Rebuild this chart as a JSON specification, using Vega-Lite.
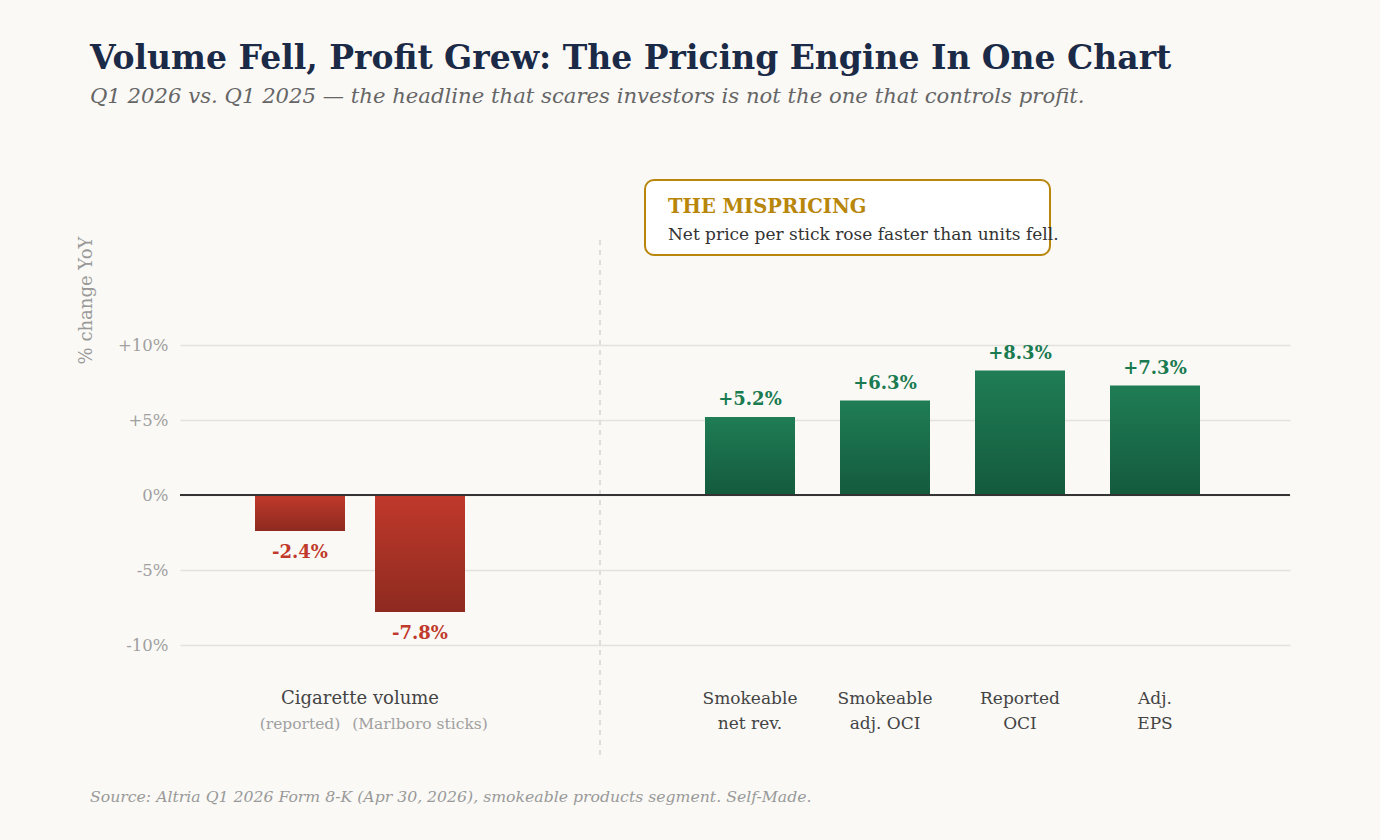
{
  "$schema": "https://vega.github.io/schema/vega-lite/v6.json",
  "width": 1110,
  "height": 600,
  "autosize": {"type": "none"},
  "padding": {"left": 180, "top": 150, "right": 90, "bottom": 90},
  "background": "#faf9f6",
  "title": {
    "text": "Volume Fell, Profit Grew: The Pricing Engine In One Chart",
    "subtitle": "Q1 2026 vs. Q1 2025 — the headline that scares investors is not the one that controls profit.",
    "anchor": "start",
    "frame": "group",
    "dx": -90,
    "offset": 42.5,
    "font": "DejaVu Serif",
    "fontSize": 33,
    "fontWeight": "bold",
    "color": "#1b2a47",
    "subtitleFont": "DejaVu Serif",
    "subtitleFontSize": 21.2,
    "subtitleFontStyle": "italic",
    "subtitleColor": "#666666",
    "subtitlePadding": 10
  },
  "config": {
    "view": {"stroke": null},
    "font": "DejaVu Serif",
    "scale": {"continuousPadding": 0}
  },
  "datasets": {
    "bars": [
      {"metric": "Cigarette volume (reported)", "slot": 8, "change": -2.4, "label": "-2.4%", "group": "vol", "line1": "", "line2": "(reported)"},
      {"metric": "Cigarette volume (Marlboro sticks)", "slot": 16, "change": -7.8, "label": "-7.8%", "group": "vol", "line1": "", "line2": "(Marlboro sticks)"},
      {"metric": "Smokeable net rev.", "slot": 38, "change": 5.2, "label": "+5.2%", "group": "profit", "line1": "Smokeable", "line2": "net rev."},
      {"metric": "Smokeable adj. OCI", "slot": 47, "change": 6.3, "label": "+6.3%", "group": "profit", "line1": "Smokeable", "line2": "adj. OCI"},
      {"metric": "Reported OCI", "slot": 56, "change": 8.3, "label": "+8.3%", "group": "profit", "line1": "Reported", "line2": "OCI"},
      {"metric": "Adj. EPS", "slot": 65, "change": 7.3, "label": "+7.3%", "group": "profit", "line1": "Adj.", "line2": "EPS"}
    ],
    "grouplabel": [
      {"slot": 12, "text": "Cigarette volume"}
    ]
  },
  "resolve": {"scale": {"x": "shared", "y": "shared"}},
  "layer": [
    {
      "data": {"name": "bars"},
      "mark": {"type": "rule", "color": "#dddddd", "strokeWidth": 1.5, "strokeDash": [5, 5]},
      "encoding": {
        "x": {"datum": 28, "type": "quantitative", "scale": {"domain": [0, 74], "nice": false, "zero": false, "padding": 0}, "axis": null},
        "y": {"datum": 17, "type": "quantitative", "scale": {"domain": [-17, 23], "nice": false, "zero": false}},
        "y2": {"datum": -17.3}
      }
    },
    {
      "data": {"name": "bars"},
      "transform": [{"filter": "datum.change < 0"}],
      "mark": {"type": "bar", "width": 90,
        "color": {"gradient": "linear", "x1": 0, "y1": 0, "x2": 0, "y2": 1,
          "stops": [{"offset": 0, "color": "#c0392b"}, {"offset": 1, "color": "#8e2a20"}]}},
      "encoding": {
        "x": {"field": "slot", "type": "quantitative", "scale": {"domain": [0, 74], "nice": false, "zero": false, "padding": 0}, "axis": null},
        "y": {"field": "change", "type": "quantitative",
          "scale": {"domain": [-17, 23], "nice": false, "zero": false},
          "axis": {
            "values": [-10, -5, 0, 5, 10],
            "labelExpr": "datum.value > 0 ? '+' + datum.value + '%' : datum.value + '%'",
            "title": "% change YoY",
            "titleX": -89,
            "titleY": 150,
            "titleAlign": "center",
            "titleBaseline": "alphabetic",
            "titleAngle": -90,
            "titleFont": "DejaVu Serif",
            "titleFontSize": 18,
            "titleFontWeight": "normal",
            "titleColor": "#999999",
            "labelFont": "DejaVu Serif",
            "labelFontSize": 16.5,
            "labelColor": "#a0a0a0",
            "labelPadding": 12,
            "ticks": false,
            "domain": false,
            "grid": true,
            "gridColor": "#e4e2de",
            "gridWidth": 1.5
          }
        }
      }
    },
    {
      "data": {"name": "bars"},
      "transform": [{"filter": "datum.change > 0"}],
      "mark": {"type": "bar", "width": 90,
        "color": {"gradient": "linear", "x1": 0, "y1": 0, "x2": 0, "y2": 1,
          "stops": [{"offset": 0, "color": "#1f7d55"}, {"offset": 1, "color": "#145a3d"}]}},
      "encoding": {
        "x": {"field": "slot", "type": "quantitative", "scale": {"domain": [0, 74], "nice": false, "zero": false, "padding": 0}},
        "y": {"field": "change", "type": "quantitative", "scale": {"domain": [-17, 23], "nice": false, "zero": false}}
      }
    },
    {
      "data": {"name": "bars"},
      "mark": {"type": "rule", "color": "#333333", "strokeWidth": 2},
      "encoding": {
        "x": {"datum": 0, "type": "quantitative", "scale": {"domain": [0, 74], "nice": false, "zero": false, "padding": 0}},
        "x2": {"datum": 74},
        "y": {"datum": 0, "type": "quantitative", "scale": {"domain": [-17, 23], "nice": false, "zero": false}}
      }
    },
    {
      "data": {"name": "bars"},
      "transform": [{"filter": "datum.change > 0"}],
      "mark": {"type": "text", "fontWeight": "bold", "fontSize": 18, "color": "#1a7a50", "baseline": "middle", "dy": -17},
      "encoding": {
        "x": {"field": "slot", "type": "quantitative", "scale": {"domain": [0, 74], "nice": false, "zero": false, "padding": 0}},
        "y": {"field": "change", "type": "quantitative", "scale": {"domain": [-17, 23], "nice": false, "zero": false}},
        "text": {"field": "label"}
      }
    },
    {
      "data": {"name": "bars"},
      "transform": [{"filter": "datum.change < 0"}],
      "mark": {"type": "text", "fontWeight": "bold", "fontSize": 18, "color": "#c0392b", "baseline": "middle", "dy": 22},
      "encoding": {
        "x": {"field": "slot", "type": "quantitative", "scale": {"domain": [0, 74], "nice": false, "zero": false, "padding": 0}},
        "y": {"field": "change", "type": "quantitative", "scale": {"domain": [-17, 23], "nice": false, "zero": false}},
        "text": {"field": "label"}
      }
    },
    {
      "data": {"name": "grouplabel"},
      "mark": {"type": "text", "fontSize": 18, "color": "#444444", "baseline": "middle"},
      "encoding": {
        "x": {"field": "slot", "type": "quantitative", "scale": {"domain": [0, 74], "nice": false, "zero": false, "padding": 0}},
        "y": {"datum": -13.6, "type": "quantitative", "scale": {"domain": [-17, 23], "nice": false, "zero": false}},
        "text": {"field": "text"}
      }
    },
    {
      "data": {"name": "bars"},
      "mark": {"type": "text", "fontSize": 17, "color": "#444444", "baseline": "middle"},
      "encoding": {
        "x": {"field": "slot", "type": "quantitative", "scale": {"domain": [0, 74], "nice": false, "zero": false, "padding": 0}},
        "y": {"datum": -13.6, "type": "quantitative", "scale": {"domain": [-17, 23], "nice": false, "zero": false}},
        "text": {"field": "line1"}
      }
    },
    {
      "data": {"name": "bars"},
      "mark": {"type": "text", "baseline": "middle"},
      "encoding": {
        "x": {"field": "slot", "type": "quantitative", "scale": {"domain": [0, 74], "nice": false, "zero": false, "padding": 0}},
        "y": {"datum": -15.25, "type": "quantitative", "scale": {"domain": [-17, 23], "nice": false, "zero": false}},
        "text": {"field": "line2"},
        "color": {"condition": {"test": "datum.group === 'vol'", "value": "#a0a0a0"}, "value": "#444444"},
        "size": {"condition": {"test": "datum.group === 'vol'", "value": 15.5}, "value": 17}
      }
    },
    {
      "data": {"name": "grouplabel"},
      "mark": {"type": "rect", "fill": "#ffffff", "stroke": "#b8860b", "strokeWidth": 2, "cornerRadius": 9},
      "encoding": {
        "x": {"datum": 31, "type": "quantitative", "scale": {"domain": [0, 74], "nice": false, "zero": false, "padding": 0}},
        "x2": {"datum": 58},
        "y": {"datum": 21, "type": "quantitative", "scale": {"domain": [-17, 23], "nice": false, "zero": false}},
        "y2": {"datum": 16}
      }
    },
    {
      "data": {"name": "grouplabel"},
      "mark": {"type": "text", "align": "left", "baseline": "middle", "fontSize": 19.5, "fontWeight": "bold", "color": "#b8860b", "text": "THE MISPRICING"},
      "encoding": {
        "x": {"datum": 32.53, "type": "quantitative", "scale": {"domain": [0, 74], "nice": false, "zero": false, "padding": 0}},
        "y": {"datum": 19.2, "type": "quantitative", "scale": {"domain": [-17, 23], "nice": false, "zero": false}}
      }
    },
    {
      "data": {"name": "grouplabel"},
      "mark": {"type": "text", "align": "left", "baseline": "middle", "fontSize": 17, "color": "#333333", "text": "Net price per stick rose faster than units fell."},
      "encoding": {
        "x": {"datum": 32.53, "type": "quantitative", "scale": {"domain": [0, 74], "nice": false, "zero": false, "padding": 0}},
        "y": {"datum": 17.35, "type": "quantitative", "scale": {"domain": [-17, 23], "nice": false, "zero": false}}
      }
    },
    {
      "data": {"name": "grouplabel"},
      "mark": {"type": "text", "align": "left", "baseline": "middle", "fontSize": 15.7, "fontStyle": "italic", "color": "#999999",
        "text": "Source: Altria Q1 2026 Form 8-K (Apr 30, 2026), smokeable products segment. Self-Made."},
      "encoding": {
        "x": {"datum": -6, "type": "quantitative", "scale": {"domain": [0, 74], "nice": false, "zero": false, "padding": 0}},
        "y": {"datum": -20.13, "type": "quantitative", "scale": {"domain": [-17, 23], "nice": false, "zero": false}}
      }
    }
  ]
}
